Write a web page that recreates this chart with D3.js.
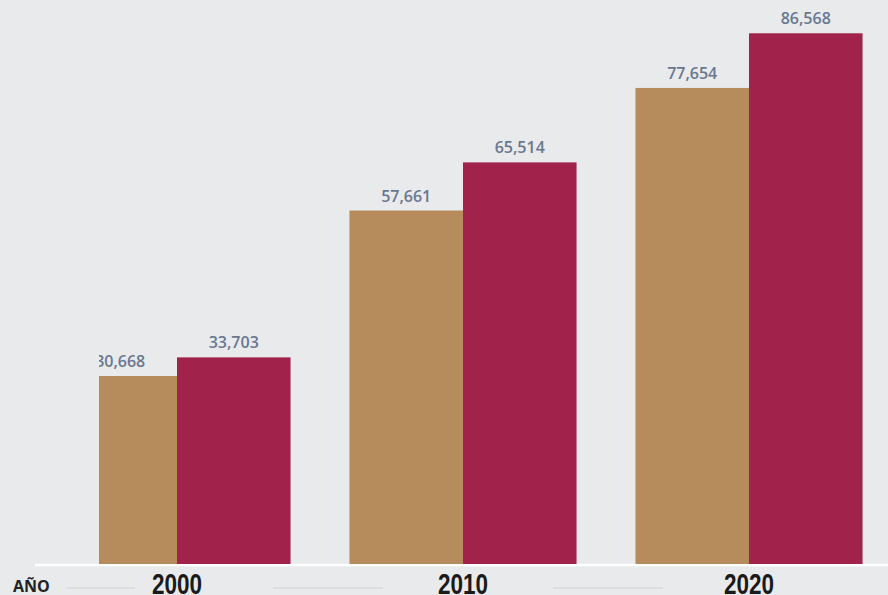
<!DOCTYPE html>
<html><head><meta charset="utf-8">
<script src="https://cdn.jsdelivr.net/npm/d3@7"></script>
<style>
html,body{margin:0;padding:0;background:#e8eaeb;}
svg{display:block;}
</style></head>
<body>
<script>
const years = ["2000", "2010", "2020"];
const seriesKeys = ["a", "b"];
const seriesA = [30668, 57661, 77654];
const seriesB = [33703, 65514, 86568];
const colors = ["#b78c5c", "#a1224a"];
const axisTitle = "AÑO";

const W = 888, H = 595;
const svg = d3.select("body").append("svg").attr("width", W).attr("height", H);
svg.append("rect").attr("width", W).attr("height", H).attr("fill", "#e8eaeb");

const baseY = 564;
const x0 = d3.scaleBand().domain(years).range([34, 892]).paddingInner(0.206).paddingOuter(0.103);
const x1 = d3.scaleBand().domain(seriesKeys).range([0, x0.bandwidth()]);
const y = d3.scaleLinear().domain([0, 92000]).range([baseY, 0]);

const data = years.map((yr, i) => ({year: yr, vals: [seriesA[i], seriesB[i]]}));

// baseline
svg.append("line").attr("x1", 35).attr("x2", W).attr("y1", baseY + 1).attr("y2", baseY + 1)
  .attr("stroke", "#ffffff").attr("stroke-width", 2.5);

svg.append("clipPath").attr("id", "clip").append("rect")
  .attr("x", 99).attr("y", 0).attr("width", W).attr("height", H);

const g = svg.append("g").attr("clip-path", "url(#clip)");
const groups = g.selectAll("g.grp").data(data).join("g")
  .attr("transform", d => `translate(${x0(d.year)},0)`);

groups.selectAll("rect").data(d => d.vals.map((v, j) => ({k: seriesKeys[j], v, j}))).join("rect")
  .attr("x", d => x1(d.k))
  .attr("y", d => y(d.v))
  .attr("width", x1.bandwidth())
  .attr("height", d => y(0) - y(d.v))
  .attr("fill", d => colors[d.j]);

groups.selectAll("text").data(d => d.vals.map((v, j) => ({k: seriesKeys[j], v, j}))).join("text")
  .attr("x", d => x1(d.k) + x1.bandwidth() / 2)
  .attr("y", d => y(d.v) - 9)
  .attr("text-anchor", "middle")
  .attr("font-family", "'Open Sans', sans-serif")
  .attr("font-size", 16)
  .attr("font-weight", 600)
  .attr("fill", "#6a7790")
  .text(d => d3.format(",")(d.v));

// x axis labels (condensed bold)
svg.selectAll("text.yr").data(years).join("text").attr("class", "yr")
  .attr("x", d => x0(d) + x0.bandwidth() / 2 - 25)
  .attr("y", 594)
  .attr("textLength", 50)
  .attr("lengthAdjust", "spacingAndGlyphs")
  .attr("font-family", "'Liberation Sans', Arial, sans-serif")
  .attr("font-weight", "bold")
  .attr("font-size", 29)
  .attr("fill", "#1a1a1a")
  .text(d => d);

svg.append("text").attr("x", 13).attr("y", 592)
  .attr("font-family", "'Open Sans', sans-serif")
  .attr("font-weight", "bold").attr("font-size", 16).attr("fill", "#222")
  .text(axisTitle);

// separator lines between labels
const bw = x0.bandwidth();
const sepData = [
  [x0(years[0]) + 3, x0(years[0]) + bw / 2 - 42],
  [x0(years[0]) + bw / 2 + 96, x0(years[1]) + bw / 2 - 80],
  [x0(years[1]) + bw / 2 + 90, x0(years[2]) + bw / 2 - 86]
];
svg.selectAll("line.sep").data(sepData).join("line").attr("class", "sep")
  .attr("x1", d => d[0]).attr("x2", d => d[1])
  .attr("y1", 588).attr("y2", 588)
  .attr("stroke", "#d6cdd0").attr("stroke-width", 1.2);
</script>
</body></html>
